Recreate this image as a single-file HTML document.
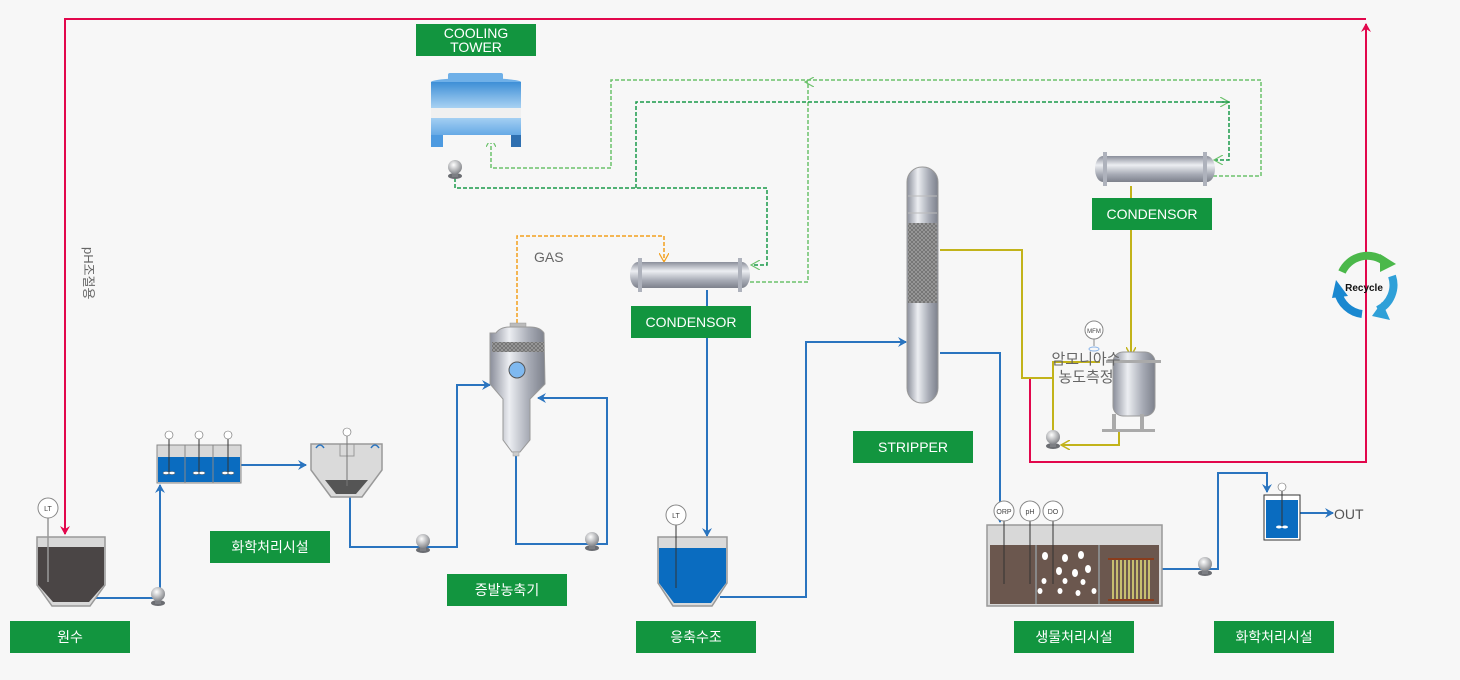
<!DOCTYPE html>
<html><head><meta charset="utf-8"><style>
html,body{margin:0;padding:0;background:#f7f7f7;}
svg{display:block;font-family:"Liberation Sans","Noto Sans CJK KR",sans-serif;}
.lb{fill:#12953f}
.lt{fill:#fff;font-size:14px;text-anchor:middle}
.bl{stroke:#2a74bf;stroke-width:2;fill:none}
</style></head><body>
<svg width="1460" height="680" viewBox="0 0 1460 680" xmlns="http://www.w3.org/2000/svg">
<defs>
<linearGradient id="met" x1="0" y1="0" x2="1" y2="0">
<stop offset="0" stop-color="#8a8e9a"/><stop offset=".35" stop-color="#eceef2"/><stop offset=".7" stop-color="#a8acb6"/><stop offset="1" stop-color="#7d818c"/></linearGradient>
<linearGradient id="metv" x1="0" y1="0" x2="0" y2="1">
<stop offset="0" stop-color="#8a8e9a"/><stop offset=".35" stop-color="#eceef2"/><stop offset=".7" stop-color="#a8acb6"/><stop offset="1" stop-color="#7d818c"/></linearGradient>
<linearGradient id="ct" x1="0" y1="0" x2="0" y2="1">
<stop offset="0" stop-color="#3e8fd6"/><stop offset=".5" stop-color="#b9dcf7"/><stop offset="1" stop-color="#4d9ae0"/></linearGradient>
<radialGradient id="pmp" cx=".4" cy=".35" r=".7"><stop offset="0" stop-color="#fff"/><stop offset="1" stop-color="#7d7f84"/></radialGradient>
<pattern id="mesh" width="4" height="4" patternUnits="userSpaceOnUse"><rect width="4" height="4" fill="#6a6a6a"/><path d="M0 0L4 4M4 0L0 4" stroke="#9a9a9a" stroke-width="1"/></pattern>
<marker id="ab" markerWidth="10" markerHeight="10" refX="8" refY="5" orient="auto" markerUnits="userSpaceOnUse"><path d="M0 0L9 5L0 10L3 5Z" fill="#2a74bf"/></marker>
<marker id="ar" markerWidth="10" markerHeight="10" refX="8" refY="5" orient="auto" markerUnits="userSpaceOnUse"><path d="M0 0L9 5L0 10L3 5Z" fill="#e2074c"/></marker>
<marker id="ay" markerWidth="10" markerHeight="10" refX="8" refY="5" orient="auto" markerUnits="userSpaceOnUse"><path d="M0 0L9 5L0 10" fill="none" stroke="#c2b31a" stroke-width="1.5"/></marker>
<marker id="ag" markerWidth="10" markerHeight="10" refX="8" refY="5" orient="auto" markerUnits="userSpaceOnUse"><path d="M0 0L9 5L0 10" fill="none" stroke="#6cc26c" stroke-width="1.2"/></marker>
<marker id="ao" markerWidth="10" markerHeight="10" refX="8" refY="5" orient="auto" markerUnits="userSpaceOnUse"><path d="M0 0L9 5L0 10" fill="none" stroke="#f3a11f" stroke-width="1.2"/></marker>
<g id="pump"><ellipse cx="0" cy="9" rx="7" ry="3" fill="#6b6d72"/><rect x="-3" y="4" width="6" height="6" fill="#7d7f84"/><circle cx="0" cy="0" r="7" fill="url(#pmp)"/></g>
<g id="hx"><rect x="8" y="4" width="104" height="26" fill="url(#metv)"/><ellipse cx="8" cy="17" rx="8" ry="13" fill="url(#metv)"/><ellipse cx="112" cy="17" rx="8" ry="13" fill="url(#metv)"/><rect x="8" y="0" width="4" height="34" fill="#aeb2bc"/><rect x="108" y="0" width="4" height="34" fill="#aeb2bc"/></g>
</defs>

<!-- red recycle line -->
<polyline points="1030,377 1030,462 1366,462 1366,24" fill="none" stroke="#e2074c" stroke-width="2" marker-end="url(#ar)"/>
<polyline points="1366,19 65,19 65,534" fill="none" stroke="#e2074c" stroke-width="2" marker-end="url(#ar)"/>
<text x="84" y="247" font-size="13" fill="#666" transform="rotate(90 84 247)">pH조절용</text>

<!-- green dashed -->
<g fill="none" stroke-dasharray="4,2" stroke-width="1.5">
<polyline points="1213,176 1261,176 1261,80 611,80 611,168 491,168 491,139" stroke="#6cc26c" marker-end="url(#ag)"/>
<polyline points="750,282 808,282 808,82" stroke="#6cc26c"/>
<line x1="808" y1="82" x2="806" y2="82" stroke="#6cc26c" marker-end="url(#ag)"/>
<polyline points="455,160 455,188 767,188 767,265 752,265" stroke="#1a9a4a" marker-end="url(#ag)"/>
<polyline points="636,188 636,102 1228,102" stroke="#1a9a4a" marker-end="url(#ag)"/>
<polyline points="1220,102 1229,102 1229,160 1215,160" stroke="#1a9a4a" marker-end="url(#ag)"/>
<polyline points="517,323 517,236 664,236 664,261" stroke="#f3a11f" marker-end="url(#ao)"/>
</g>

<!-- yellow -->
<g fill="none" stroke="#c2b31a" stroke-width="2">
<polyline points="940,250 1022,250 1022,378 1053,378 1053,432"/>
<polyline points="1053,378 1053,362 1100,362"/>
<polyline points="1131,186 1131,355" marker-end="url(#ay)"/>
<polyline points="1119,432 1119,445 1062,445" marker-end="url(#ay)"/>
</g>

<!-- blue lines -->
<polyline class="bl" points="90,598 158,598"/>
<polyline class="bl" points="160,590 160,485" marker-end="url(#ab)"/>
<polyline class="bl" points="241,465 306,465" marker-end="url(#ab)"/>
<polyline class="bl" points="350,497 350,547 457,547 457,385 490,385" marker-end="url(#ab)"/>
<polyline class="bl" points="516,455 516,544 607,544 607,398 538,398" marker-end="url(#ab)"/>
<polyline class="bl" points="707,290 707,536" marker-end="url(#ab)"/>
<polyline class="bl" points="720,597 806,597 806,342 906,342" marker-end="url(#ab)"/>
<polyline class="bl" points="940,353 1000,353 1000,522" marker-end="url(#ab)"/>
<polyline class="bl" points="1162,569 1218,569 1218,473 1267,473 1267,492" marker-end="url(#ab)"/>
<polyline class="bl" points="1300,513 1333,513" marker-end="url(#ab)"/>
<text x="1334" y="519" font-size="14" fill="#555">OUT</text>

<!-- cooling tower -->
<rect x="448" y="73" width="55" height="8" rx="2" fill="#6fb0e8"/>
<ellipse cx="476" cy="82" rx="45" ry="4" fill="#6fb0e8"/>
<rect x="431" y="82" width="90" height="60" fill="url(#ct)"/>
<rect x="431" y="108" width="90" height="10" fill="#f0f0f0"/>
<rect x="431" y="135" width="90" height="8" fill="#f7f7f7"/>
<rect x="431" y="135" width="12" height="12" fill="#4d9ae0"/><rect x="511" y="135" width="10" height="12" fill="#2e6fb0"/>
<use href="#pump" x="455" y="167"/>

<!-- raw water tank -->
<path d="M37,537H105V585L90,606H52L37,585Z" fill="#d8d8d8" stroke="#999" stroke-width="1.5"/>
<path d="M38,547H104V585L89,602H53L38,585Z" fill="#4a4545"/>
<line x1="48" y1="516" x2="48" y2="582" stroke="#999" stroke-width="1.5"/>
<circle cx="48" cy="508" r="10" fill="#fff" stroke="#888"/><text x="48" y="511" font-size="7" text-anchor="middle" fill="#444">LT</text>
<use href="#pump" x="158" y="594"/>

<!-- chemical tank -->
<rect x="157" y="445" width="84" height="38" fill="#d8d8d8" stroke="#888"/>
<rect x="158" y="457" width="82" height="25" fill="#0a6cc0"/>
<line x1="185" y1="445" x2="185" y2="483" stroke="#888"/><line x1="213" y1="445" x2="213" y2="483" stroke="#888"/>
<g stroke="#333"><line x1="169" y1="438" x2="169" y2="473"/><line x1="199" y1="438" x2="199" y2="473"/><line x1="228" y1="438" x2="228" y2="473"/></g>
<g fill="#fff" stroke="#666" stroke-width=".6"><circle cx="169" cy="435" r="4"/><circle cx="199" cy="435" r="4"/><circle cx="228" cy="435" r="4"/>
<ellipse cx="166" cy="473" rx="3" ry="1.5"/><ellipse cx="172" cy="473" rx="3" ry="1.5"/><ellipse cx="196" cy="473" rx="3" ry="1.5"/><ellipse cx="202" cy="473" rx="3" ry="1.5"/><ellipse cx="225" cy="473" rx="3" ry="1.5"/><ellipse cx="231" cy="473" rx="3" ry="1.5"/></g>

<!-- clarifier -->
<path d="M311,444H382V470L362,497H331L311,470Z" fill="#dadada" stroke="#999" stroke-width="1.5"/>
<path d="M325,480H368L356,494H336Z" fill="#555"/>
<rect x="340" y="444" width="14" height="12" fill="none" stroke="#999"/>
<line x1="347" y1="436" x2="347" y2="486" stroke="#777"/><circle cx="347" cy="432" r="4" fill="#fff" stroke="#666" stroke-width=".6"/>
<path d="M316,448q4,-6 8,0M371,448q4,-6 8,0" stroke="#2a74bf" fill="none" stroke-width="1.5"/>
<use href="#pump" x="423" y="541"/>

<!-- evaporator -->
<rect x="510" y="323" width="16" height="6" fill="#bbb" stroke="#999" stroke-width=".5"/>
<path d="M496,333Q500,327 510,327H530Q540,327 544,333L545,384L530,399V440L520,452H512L503,440V399L490,384L490,333Z" fill="url(#met)" stroke="#999"/>
<rect x="492" y="342" width="52" height="10" fill="url(#mesh)"/>
<circle cx="517" cy="370" r="8" fill="#7fb9f0" stroke="#555"/>
<rect x="513" y="452" width="6" height="4" fill="#ccc" stroke="#999" stroke-width=".5"/>
<use href="#pump" x="592" y="539"/>

<!-- condensor 1 -->
<use href="#hx" x="630" y="258"/>

<!-- condensate tank -->
<path d="M658,537H727V583L712,606H673L658,583Z" fill="#dadada" stroke="#999" stroke-width="1.5"/>
<path d="M659,548H726V583L711,603H674L659,583Z" fill="#0a6cc0"/>
<line x1="676" y1="522" x2="676" y2="588" stroke="#333"/>
<circle cx="676" cy="515" r="10" fill="#fff" stroke="#888"/><text x="676" y="518" font-size="7" text-anchor="middle" fill="#444">LT</text>

<!-- stripper -->
<rect x="907" y="167" width="31" height="236" rx="15" fill="url(#met)" stroke="#999"/>
<rect x="908" y="223" width="29" height="80" fill="url(#mesh)"/>
<line x1="908" y1="196" x2="937" y2="196" stroke="#bbb"/><line x1="908" y1="213" x2="937" y2="213" stroke="#bbb"/>

<!-- condensor 2 -->
<use href="#hx" x="1095" y="152"/>

<!-- ammonia tank -->
<rect x="1113" y="352" width="42" height="64" rx="10" fill="url(#met)" stroke="#999"/>
<rect x="1106" y="360" width="55" height="3" fill="#aaa"/>
<rect x="1112" y="414" width="4" height="16" fill="#aaa"/><rect x="1140" y="414" width="4" height="16" fill="#aaa"/>
<rect x="1102" y="429" width="53" height="3" fill="#aaa"/>
<circle cx="1094" cy="330" r="9" fill="#fff" stroke="#888"/><text x="1094" y="333" font-size="6" text-anchor="middle" fill="#444">MFM</text>
<line x1="1094" y1="339" x2="1094" y2="346" stroke="#888"/>
<ellipse cx="1094" cy="349" rx="5" ry="2" fill="none" stroke="#8ab4e8"/>
<text x="1086" y="364" font-size="15" fill="#666" text-anchor="middle">암모니아수</text>
<text x="1086" y="382" font-size="15" fill="#666" text-anchor="middle">농도측정</text>
<use href="#pump" x="1053" y="437"/>

<!-- bio tank -->
<rect x="987" y="525" width="175" height="81" fill="#d8d8d8" stroke="#999" stroke-width="1.5"/>
<rect x="990" y="545" width="169" height="59" fill="#6b574e"/>
<line x1="1036" y1="545" x2="1036" y2="604" stroke="#888" stroke-width="2"/><line x1="1099" y1="545" x2="1099" y2="604" stroke="#888" stroke-width="2"/>
<rect x="1108" y="557" width="46" height="42" fill="#6b574e" stroke="#8a3c1c" stroke-width="0"/>
<rect x="1108" y="558" width="46" height="2" fill="#8a3c1c"/><rect x="1108" y="599" width="46" height="2" fill="#8a3c1c"/>
<g stroke="#e6e07a" stroke-width="1.5"><line x1="1113" y1="560" x2="1113" y2="599"/><line x1="1117" y1="560" x2="1117" y2="599"/><line x1="1121" y1="560" x2="1121" y2="599"/><line x1="1125" y1="560" x2="1125" y2="599"/><line x1="1129" y1="560" x2="1129" y2="599"/><line x1="1133" y1="560" x2="1133" y2="599"/><line x1="1137" y1="560" x2="1137" y2="599"/><line x1="1141" y1="560" x2="1141" y2="599"/><line x1="1145" y1="560" x2="1145" y2="599"/><line x1="1149" y1="560" x2="1149" y2="599"/></g>
<g fill="#fff"><ellipse cx="1045" cy="556" rx="3" ry="4"/><ellipse cx="1065" cy="558" rx="3" ry="4"/><ellipse cx="1081" cy="555" rx="3" ry="4"/><ellipse cx="1059" cy="571" rx="3" ry="4"/><ellipse cx="1075" cy="573" rx="3" ry="4"/><ellipse cx="1088" cy="569" rx="3" ry="4"/><ellipse cx="1044" cy="581" rx="2.5" ry="3"/><ellipse cx="1065" cy="581" rx="2.5" ry="3"/><ellipse cx="1083" cy="582" rx="2.5" ry="3"/><ellipse cx="1040" cy="591" rx="2.5" ry="3"/><ellipse cx="1060" cy="591" rx="2.5" ry="3"/><ellipse cx="1078" cy="593" rx="2.5" ry="3"/><ellipse cx="1094" cy="591" rx="2.5" ry="3"/></g>
<g stroke="#333"><line x1="1004" y1="520" x2="1004" y2="584"/><line x1="1030" y1="520" x2="1030" y2="584"/><line x1="1053" y1="520" x2="1053" y2="584"/></g>
<g fill="#fff" stroke="#888"><circle cx="1004" cy="511" r="10"/><circle cx="1030" cy="511" r="10"/><circle cx="1053" cy="511" r="10"/></g>
<g font-size="7" text-anchor="middle" fill="#444"><text x="1004" y="514">ORP</text><text x="1030" y="514">pH</text><text x="1053" y="514">DO</text></g>
<use href="#pump" x="1205" y="564"/>

<!-- small tank -->
<rect x="1264" y="495" width="36" height="45" fill="#fff" stroke="#333"/>
<rect x="1266" y="500" width="32" height="38" fill="#0a6cc0"/>
<line x1="1282" y1="491" x2="1282" y2="527" stroke="#333"/>
<circle cx="1282" cy="487" r="4" fill="#fff" stroke="#666" stroke-width=".6"/>
<ellipse cx="1279" cy="527" rx="3" ry="1.5" fill="#fff"/><ellipse cx="1285" cy="527" rx="3" ry="1.5" fill="#fff"/>

<!-- recycle icon -->
<g fill="none" stroke-width="8">
<path d="M1342,272A28,28 0 0 1 1385,262" stroke="#4bb84a"/>
<path d="M1392,276A28,28 0 0 1 1378,310" stroke="#2fa0d8"/>
<path d="M1362,314A28,28 0 0 1 1338,292" stroke="#1a88d0"/>
</g>
<path d="M1380,254L1396,264L1380,272Z" fill="#4bb84a"/>
<path d="M1382,302L1390,320L1372,316Z" fill="#2fa0d8"/>
<path d="M1332,298L1336,280L1348,296Z" fill="#1a88d0"/>
<text x="1364" y="291" font-size="10" font-weight="bold" text-anchor="middle" fill="#111">Recycle</text>

<!-- labels -->
<rect class="lb" x="416" y="24" width="120" height="32"/><text class="lt" x="476" y="38">COOLING</text><text class="lt" x="476" y="52">TOWER</text>
<text x="534" y="262" font-size="14" fill="#666">GAS</text>
<rect class="lb" x="631" y="306" width="120" height="32"/><text class="lt" x="691" y="327">CONDENSOR</text>
<rect class="lb" x="1092" y="198" width="120" height="32"/><text class="lt" x="1152" y="219">CONDENSOR</text>
<rect class="lb" x="853" y="431" width="120" height="32"/><text class="lt" x="913" y="452">STRIPPER</text>
<rect class="lb" x="210" y="531" width="120" height="32"/><text class="lt" x="270" y="552">화학처리시설</text>
<rect class="lb" x="447" y="574" width="120" height="32"/><text class="lt" x="507" y="595">증발농축기</text>
<rect class="lb" x="10" y="621" width="120" height="32"/><text class="lt" x="70" y="642">원수</text>
<rect class="lb" x="636" y="621" width="120" height="32"/><text class="lt" x="696" y="642">응축수조</text>
<rect class="lb" x="1014" y="621" width="120" height="32"/><text class="lt" x="1074" y="642">생물처리시설</text>
<rect class="lb" x="1214" y="621" width="120" height="32"/><text class="lt" x="1274" y="642">화학처리시설</text>
</svg>
</body></html>
